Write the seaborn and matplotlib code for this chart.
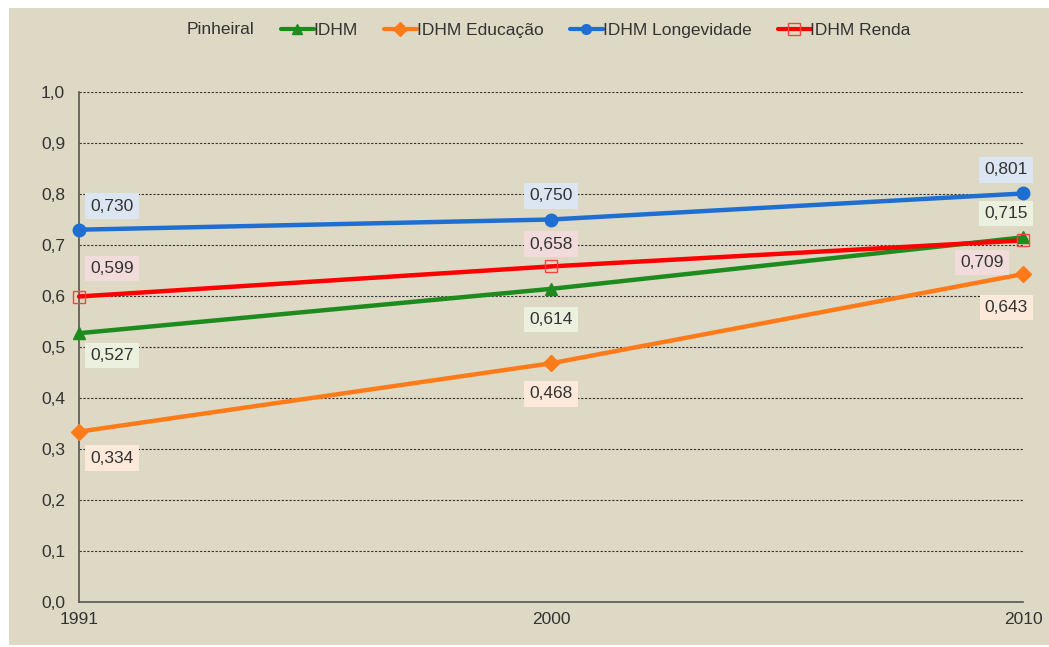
import matplotlib
matplotlib.use("Agg")
import matplotlib.pyplot as plt
import seaborn as sns
import pandas as pd
from matplotlib.patches import Rectangle
from matplotlib.lines import Line2D

# data
anos = ["1991", "2000", "2010"]
idhm = [0.527, 0.614, 0.715]
idhm_educacao = [0.334, 0.468, 0.643]
idhm_longevidade = [0.730, 0.750, 0.801]
idhm_renda = [0.599, 0.658, 0.709]

series = ["IDHM", "IDHM Educação", "IDHM Longevidade", "IDHM Renda"]
valores = [idhm, idhm_educacao, idhm_longevidade, idhm_renda]

df = pd.DataFrame({
    "ano": anos * 4,
    "valor": idhm + idhm_educacao + idhm_longevidade + idhm_renda,
    "serie": [s for s in series for _ in anos],
})

bg = "#DDD9C4"
cores = {"IDHM": "#1E8B1E", "IDHM Educação": "#FF7B1A",
         "IDHM Longevidade": "#1F6FD2", "IDHM Renda": "#FF0000"}
caixas = {"IDHM": "#EBF1DE", "IDHM Educação": "#FDE9D9",
          "IDHM Longevidade": "#DCE6F2", "IDHM Renda": "#F2DCDB"}
marcadores = {"IDHM": "^", "IDHM Educação": "D",
              "IDHM Longevidade": "o", "IDHM Renda": "s"}

sns.set_style("white")
plt.rcParams["font.family"] = ["Liberation Sans", "DejaVu Sans"]
fs = 12.5

fig = plt.figure(figsize=(10.49, 6.47), dpi=100, facecolor="white")
fig.patches.append(Rectangle((9 / 1049, 2 / 647), 1040 / 1049, 637 / 647,
                             transform=fig.transFigure, facecolor=bg,
                             edgecolor="none", zorder=-10))
ax = fig.add_axes([79 / 1049, 45 / 647, 944 / 1049, 510 / 647])
ax.set_facecolor(bg)

sns.lineplot(data=df, x="ano", y="valor", hue="serie", palette=cores,
             linewidth=3.2, legend=False, ax=ax, zorder=3)
for ln in ax.lines:
    ln.set_clip_on(False)

# markers
for s, v in zip(series, valores):
    if s == "IDHM Renda":
        ax.plot(anos, v, linestyle="none", marker="s", markersize=9,
                markerfacecolor="none", markeredgecolor="#FF4040",
                markeredgewidth=1.0, zorder=4, clip_on=False)
    else:
        ms = 9 if s != "IDHM Educação" else 8
        ax.plot(anos, v, linestyle="none", marker=marcadores[s], markersize=ms,
                color=cores[s], zorder=4, clip_on=False)

ax.set_xlim(0, 2)
ax.set_ylim(0, 1.0)
ax.set_yticks([i / 10 for i in range(11)])
ax.set_yticklabels([f"{i / 10:.1f}".replace(".", ",") for i in range(11)])
ax.set_xlabel("")
ax.set_ylabel("")
for y in [i / 10 for i in range(1, 11)]:
    ax.axhline(y, color="#333333", linestyle=(0, (2, 1.5)), linewidth=0.8, zorder=1)

for sp in ["top", "right"]:
    ax.spines[sp].set_visible(False)
for sp in ["left", "bottom"]:
    ax.spines[sp].set_color("#555555")
    ax.spines[sp].set_linewidth(1.2)
ax.tick_params(axis="both", length=6, width=1.2, color="#555555",
               labelsize=fs, labelcolor="#333333", direction="out")
ax.tick_params(axis="y", pad=4)
ax.tick_params(axis="x", pad=1)

# data labels (offsets in points)
offsets = {
    "IDHM": [(8, -16, "left"), (0, -22, "center"), (3.6, 17, "right")],
    "IDHM Educação": [(8, -19, "left"), (0, -22, "center"), (3.6, -24, "right")],
    "IDHM Longevidade": [(8, 17, "left"), (0, 17, "center"), (3.6, 17, "right")],
    "IDHM Renda": [(8, 20, "left"), (0, 16, "center"), (-14, -16, "right")],
}
for s, v in zip(series, valores):
    for i, val in enumerate(v):
        dx, dy, ha = offsets[s][i]
        ax.annotate(f"{val:.3f}".replace(".", ","), (i, val),
                    xytext=(dx, dy), textcoords="offset points",
                    ha=ha, va="center", fontsize=fs, color="#333333",
                    bbox=dict(boxstyle="square,pad=0.3", facecolor=caixas[s],
                              edgecolor="none"), zorder=5)

# legend
handles = []
for s in series:
    if s == "IDHM Renda":
        h = Line2D([], [], color=cores[s], linewidth=3, marker="s", markersize=8,
                   markerfacecolor="none", markeredgecolor="#FF4040",
                   markeredgewidth=1.0)
    else:
        h = Line2D([], [], color=cores[s], linewidth=3, marker=marcadores[s],
                   markersize=7)
    handles.append(h)
fig.text(187 / 1049, 1 - 30 / 647, "Pinheiral", fontsize=fs, color="#333333",
         va="center", ha="left")
fig.legend(handles, series, loc="center left",
           bbox_to_anchor=(272 / 1049, 1 - 30 / 647), borderpad=0,
           ncol=4, frameon=False, fontsize=fs, handlelength=1.9, handletextpad=0.0,
           columnspacing=1.5, labelcolor="#333333")

fig.savefig("out.png", dpi=100, facecolor="white")
